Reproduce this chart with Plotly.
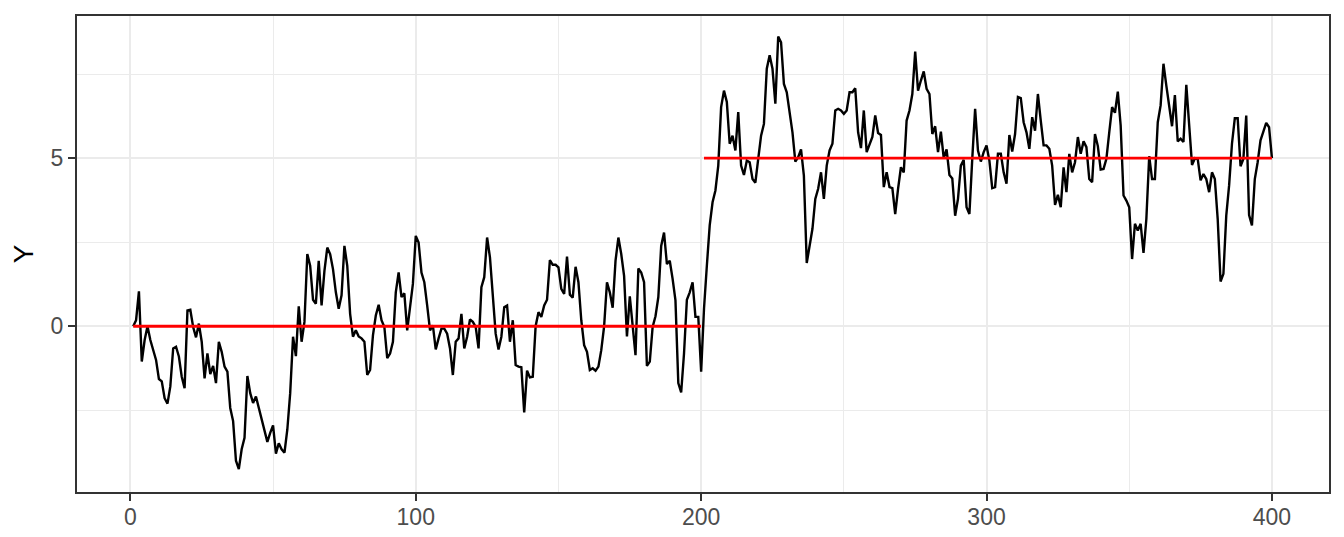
import plotly.graph_objs as go

# Series values (t = 1..200 and t = 201..400)
y_first = [
    0.0, 0.18, 1.04, -1.05, -0.41, 0.0, -0.41, -0.7, -1.0, -1.57,
    -1.64, -2.14, -2.3, -1.79, -0.66, -0.61, -0.9, -1.5, -1.84, 0.47,
    0.49, -0.02, -0.33, 0.08, -0.46, -1.55, -0.81, -1.42, -1.18, -1.69,
    -0.46, -0.76, -1.2, -1.35, -2.43, -2.82, -4.0, -4.25, -3.66, -3.32,
    -1.48, -1.99, -2.28, -2.09, -2.43, -2.73, -3.07, -3.44, -3.17, -2.95,
    -3.79, -3.48, -3.66, -3.76, -3.07, -1.99, -0.31, -0.89, 0.59, -0.46,
    0.13, 2.15, 1.8, 0.79, 0.67, 1.95, 0.62, 1.65, 2.34, 2.15,
    1.7, 1.01, 0.52, 0.92, 2.39, 1.8, 0.37, -0.31, -0.12, -0.3,
    -0.36, -0.46, -1.45, -1.3, -0.27, 0.32, 0.64, 0.18, -0.02, -0.95,
    -0.81, -0.46, 1.01, 1.6, 0.87, 0.98, -0.12, 0.57, 1.26, 2.69,
    2.49, 1.6, 1.31, 0.62, -0.12, 0.03, -0.69, -0.36, -0.07, -0.07,
    -0.22, -0.66, -1.45, -0.46, -0.36, 0.37, -0.66, -0.31, 0.2, 0.13,
    -0.02, -0.66, 1.16, 1.46, 2.64, 2.05, 1.01, -0.22, -0.69, -0.31,
    0.57, 0.62, -0.46, 0.18, -1.15, -1.2, -1.22, -2.56, -1.32, -1.52,
    -1.5, 0.0, 0.42, 0.28, 0.62, 0.79, 1.97, 1.83, 1.83, 1.75,
    1.11, 0.96, 2.07, 0.94, 0.85, 1.77, 1.31, 0.18, -0.56, -0.76,
    -1.3, -1.25, -1.32, -1.2, -0.71, 0.0, 1.31, 1.01, 0.55, 1.95,
    2.64, 2.15, 1.5, -0.3, 0.89, -0.02, -0.86, 1.72, 1.6, 1.31,
    -1.18, -1.05, -0.02, 0.3, 0.87, 2.39, 2.79, 1.85, 1.95, 1.41,
    0.77, -1.69, -1.97, -0.81, 0.79, 1.01, 1.31, 0.28, 0.28, -1.35,
]
y_second = [
    0.52, 1.8, 3.0, 3.69, 4.04, 4.78, 6.52, 7.01, 6.67, 5.43,
    5.67, 5.23, 6.37, 4.78, 4.5, 4.93, 4.88, 4.38, 4.27, 4.98,
    5.67, 6.02, 7.66, 8.06, 7.66, 6.62, 8.62, 8.45, 7.21, 6.96,
    6.32, 5.77, 4.9, 5.03, 5.26, 4.48, 1.88, 2.4, 2.9, 3.79,
    4.09, 4.58, 3.79, 4.78, 5.23, 5.43, 6.42, 6.47, 6.42, 6.32,
    6.42, 6.96, 6.96, 7.08, 5.77, 5.3, 6.42, 5.18, 5.38, 5.63,
    6.27, 5.75, 5.69, 4.14, 4.58, 4.14, 4.11, 3.34, 4.09, 4.73,
    4.58, 6.12, 6.42, 6.91, 8.17, 7.01, 7.31, 7.58, 7.06, 6.91,
    5.72, 5.95, 5.18, 5.79, 5.0, 5.26, 4.5, 4.4, 3.29, 3.79,
    4.78, 4.95, 3.54, 3.34, 4.98, 6.47, 5.23, 4.9, 5.18, 5.38,
    4.93, 4.11, 4.14, 5.13, 5.13, 4.58, 4.24, 5.69, 5.2, 5.72,
    6.82, 6.79, 6.07, 5.77, 5.28, 6.22, 5.82, 6.91, 6.12, 5.38,
    5.38, 5.28, 4.78, 3.61, 3.91, 3.54, 4.73, 3.99, 5.13, 4.58,
    4.88, 5.63, 5.13, 5.5, 5.33, 4.38, 4.29, 5.72, 5.36, 4.66,
    4.68, 4.98, 5.77, 6.52, 6.35, 6.98, 5.97, 3.89, 3.74, 3.54,
    2.0, 3.05, 2.85, 3.05, 2.18, 3.19, 5.06, 4.38, 4.38, 6.07,
    6.57, 7.81, 7.16, 6.57, 5.95, 6.88, 5.5, 5.58, 5.48, 7.18,
    6.02, 4.8, 5.0, 4.98, 4.34, 4.53, 4.38, 3.99, 4.58, 4.38,
    3.19, 1.33, 1.56, 3.29, 4.19, 5.43, 6.19, 6.19, 4.76, 4.98,
    6.27, 3.31, 3.0, 4.38, 4.88, 5.53, 5.79, 6.05, 5.92, 5.0,
]
y_values = y_first + y_second
t = list(range(1, len(y_values) + 1))

# True segment means
seg_start = [1, 201]
seg_end = [200, 400]
seg_mean = [0, 5]

traces = [go.Scatter(x=t, y=y_values, mode='lines',
                     line={'color': 'black', 'width': 2.4},
                     showlegend=False, hoverinfo='skip')]

for s, e, m in zip(seg_start, seg_end, seg_mean):
    traces.append(go.Scatter(x=[s, e], y=[m, m], mode='lines',
                             line={'color': '#FF0000', 'width': 2.8},
                             showlegend=False, hoverinfo='skip'))

grid_major = '#EBEBEB'
border = '#333333'
font_family = 'Liberation Sans, Arial, sans-serif'
tickfont = {'family': font_family, 'size': 23, 'color': '#4D4D4D'}

# page body has an 8px margin, so shift everything up/left by 8px
layout = go.Layout(
    width=1336, height=529,
    margin={'l': 69, 'r': 15, 't': 8, 'b': 45},
    paper_bgcolor='white', plot_bgcolor='white',
    xaxis={'range': [-18.7, 420], 'tick0': 0, 'dtick': 100,
           'automargin': False,
           'showgrid': True, 'gridcolor': grid_major, 'gridwidth': 2,
           'minor': {'dtick': 50, 'showgrid': True, 'gridcolor': grid_major,
                     'gridwidth': 1},
           'zeroline': False, 'showline': True, 'mirror': True,
           'linecolor': border, 'linewidth': 2,
           'ticks': 'outside', 'ticklen': 7, 'tickwidth': 2,
           'tickcolor': border, 'tickfont': tickfont,
           'ticklabelstandoff': -4},
    yaxis={'range': [-4.93, 9.23], 'tick0': 0, 'dtick': 5,
           'automargin': False,
           'showgrid': True, 'gridcolor': grid_major, 'gridwidth': 2,
           'minor': {'dtick': 2.5, 'showgrid': True, 'gridcolor': grid_major,
                     'gridwidth': 1},
           'zeroline': False, 'showline': True, 'mirror': True,
           'linecolor': border, 'linewidth': 2,
           'ticks': 'outside', 'ticklen': 7, 'tickwidth': 2,
           'tickcolor': border, 'tickfont': tickfont,
           'title': {'text': 'Y', 'standoff': 10,
                     'font': {'family': font_family, 'size': 28,
                              'color': 'black'}}},
)

fig = go.Figure(data=traces, layout=layout)
fig.write_html("out.html")
